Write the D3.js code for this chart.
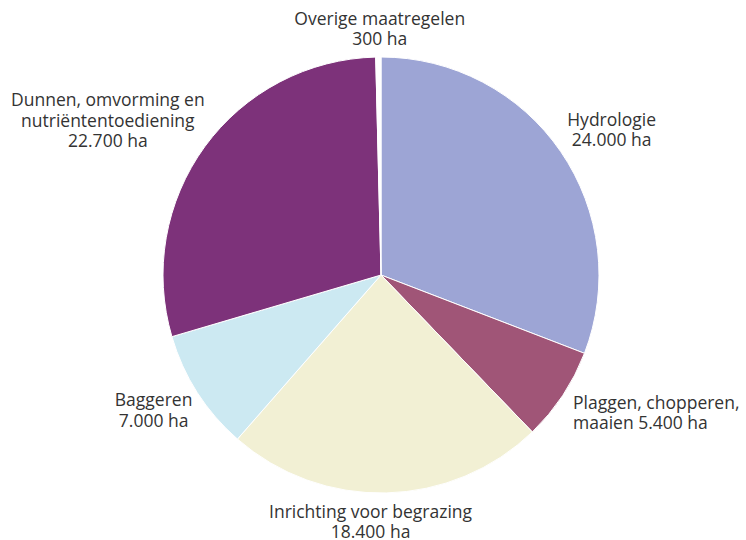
<!DOCTYPE html>
<html>
<head>
<meta charset="utf-8">
<script src="https://cdn.jsdelivr.net/npm/d3@7"></script>
<style>
  body { margin: 0; background: #fff; }
  text { font-family: "Open Sans", sans-serif; fill: #333; }
</style>
</head>
<body>
<div id="chart"></div>
<script>
// data, clockwise from the top
var categories = ["Hydrologie", "Plaggen, chopperen, maaien", "Inrichting voor begrazing", "Baggeren", "Dunnen, omvorming en nutriëntentoediening", "Overige maatregelen"];
var values = [24000, 5400, 18400, 7000, 22700, 300];
var colors = ["#9da5d5", "#a05577", "#f2f0d4", "#cce9f2", "#7d327a", "#ffffff"];
var labelLines = [
    ["Hydrologie", "24.000 ha"],
    ["Plaggen, chopperen,", "maaien 5.400 ha"],
    ["Inrichting voor begrazing", "18.400 ha"],
    ["Baggeren", "7.000 ha"],
    ["Dunnen, omvorming en", "nutriëntentoediening", "22.700 ha"],
    ["Overige maatregelen", "300 ha"]
];

var width = 746, height = 540;
var cx = 381, cy = 275, radius = 218;

// label tweaks relative to the label arc centroid
var nudge = [[8, 8], [-33, -11], [-17, -23], [0, -10], [-55, 5], [2, 24]];
var anchors = ["middle", "start", "middle", "middle", "middle", "middle"];

var svg = d3.select("#chart").append("svg")
    .attr("width", width)
    .attr("height", height)
    .append("g")
    .attr("transform", "translate(" + cx + "," + cy + ")");

var pie = d3.pie().sort(null).value(function(d) { return d; });
var arcs = pie(values);

var arc = d3.arc().innerRadius(0).outerRadius(radius);
var labelArc = d3.arc().innerRadius(270).outerRadius(270);

svg.selectAll("path")
    .data(arcs)
    .enter().append("path")
    .attr("d", arc)
    .style("fill", function(d, i) { return colors[i]; })
    .style("stroke", "#fff")
    .style("stroke-width", 1);

var lineH = 20.5;

var labels = svg.selectAll("text.lbl")
    .data(arcs)
    .enter().append("text")
    .attr("class", "lbl")
    .style("font-size", "17.5px")
    .attr("text-anchor", function(d, i) { return anchors[i]; })
    .attr("transform", function(d, i) {
        var c = labelArc.centroid(d);
        return "translate(" + (c[0] + nudge[i][0]) + "," + (c[1] + nudge[i][1]) + ")";
    });

labels.each(function(d, i) {
    var lines = labelLines[i];
    var y0 = -(lines.length - 1) * lineH / 2 + 6;
    d3.select(this).selectAll("tspan")
        .data(lines)
        .enter().append("tspan")
        .attr("x", 0)
        .attr("y", function(l, j) { return y0 + j * lineH; })
        .text(function(l) { return l; });
});
</script>
</body>
</html>
